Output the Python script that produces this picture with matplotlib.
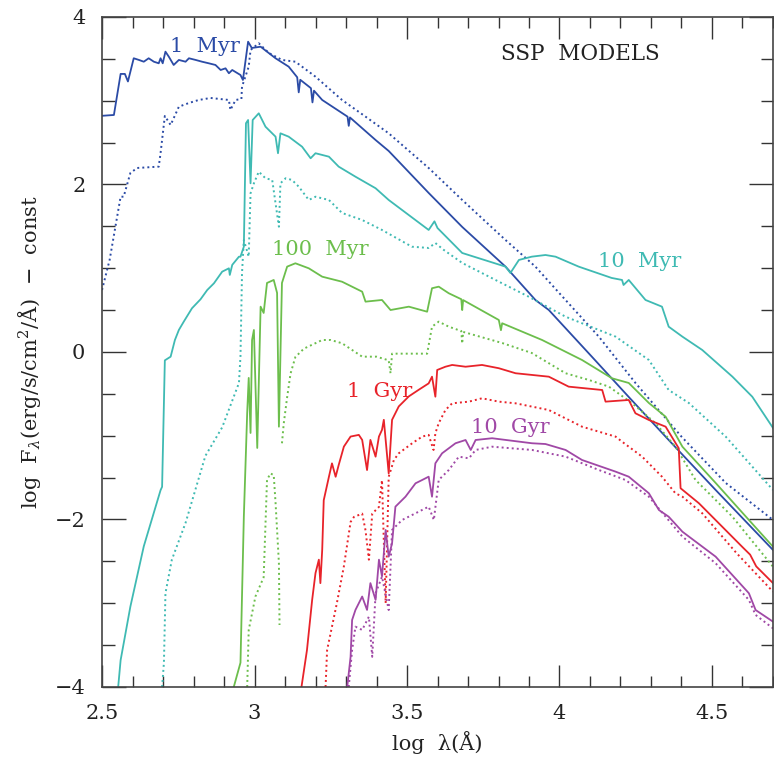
import matplotlib
matplotlib.use("Agg")
import matplotlib.pyplot as plt
from matplotlib.ticker import MultipleLocator
import numpy as np

plt.rcParams["font.family"] = ["DejaVu Serif"]
plt.rcParams["mathtext.fontset"] = "dejavuserif"

# ---- spectra (log lambda, log F) ----
# 1 Myr
myr1_x = [2.5, 2.539, 2.561, 2.575, 2.585, 2.604, 2.621, 2.637, 2.653, 2.670, 2.686, 2.692, 2.699, 2.708,
          2.719, 2.735, 2.752, 2.774, 2.785, 2.807, 2.828, 2.850, 2.872, 2.889, 2.905, 2.916, 2.927, 2.954,
          2.962, 2.979, 2.991, 3.02, 3.069, 3.112, 3.14, 3.145, 3.15, 3.185, 3.19, 3.195, 3.222, 3.305,
          3.309, 3.313, 3.397, 3.44, 3.571, 3.681, 3.823, 3.921, 3.965, 4.106, 4.227, 4.358, 4.512, 4.70]
myr1_y = [2.82, 2.83, 3.32, 3.32, 3.23, 3.507, 3.487, 3.466, 3.507, 3.466, 3.447, 3.507, 3.447, 3.586,
          3.526, 3.427, 3.487, 3.466, 3.507, 3.487, 3.466, 3.447, 3.427, 3.367, 3.387, 3.328, 3.367, 3.307,
          3.248, 3.705, 3.63, 3.645, 3.507, 3.407, 3.28, 3.10, 3.25, 3.15, 2.98, 3.12, 3.009, 2.81,
          2.70, 2.80, 2.531, 2.40, 1.899, 1.493, 1.019, 0.621, 0.501, -0.056, -0.537, -1.051, -1.648, -2.364]
myr1d_x = [2.5, 2.525, 2.561, 2.571, 2.593, 2.615, 2.686, 2.692, 2.706, 2.725, 2.752, 2.785, 2.817, 2.856,
           2.916, 2.921, 2.938, 2.957, 2.959, 2.981, 2.987, 3.014, 3.047, 3.09, 3.134, 3.20, 3.287, 3.364,
           3.44, 3.571, 3.681, 3.823, 3.921, 4.0, 4.129, 4.249, 4.40, 4.545, 4.70]
myr1d_y = [0.74, 1.10, 1.854, 1.854, 2.137, 2.197, 2.213, 2.376, 2.818, 2.71, 2.929, 2.973, 3.009, 3.033,
           3.009, 2.89, 3.009, 3.021, 3.168, 3.407, 3.606, 3.686, 3.57, 3.487, 3.466, 3.287, 3.009, 2.81,
           2.611, 2.197, 1.815, 1.337, 1.019, 0.70, 0.183, -0.370, -1.011, -1.564, -2.006]

# 10 Myr
myr10_x = [2.553, 2.561, 2.593, 2.637, 2.692, 2.697, 2.706, 2.725, 2.739, 2.752, 2.768, 2.795, 2.823, 2.845,
           2.867, 2.894, 2.916, 2.919, 2.927, 2.949, 2.954, 2.965, 2.972, 2.979, 2.987, 2.994, 3.014, 3.025,
           3.036, 3.069, 3.077, 3.085, 3.112, 3.134, 3.156, 3.184, 3.20, 3.244, 3.276, 3.331, 3.397, 3.44,
           3.571, 3.59, 3.60, 3.681, 3.823, 3.839, 3.867, 3.909, 3.954, 3.987, 4.063, 4.171, 4.205, 4.21,
           4.227, 4.282, 4.336, 4.358, 4.403, 4.468, 4.567, 4.632, 4.70]
myr10_y = [-4.0, -3.68, -3.04, -2.32, -1.65, -1.61, -0.10, -0.056, 0.143, 0.263, 0.362, 0.522, 0.629, 0.740,
           0.820, 0.959, 0.999, 0.92, 1.04, 1.138, 1.138, 1.257, 2.731, 2.77, 2.014, 2.77, 2.85, 2.77,
           2.69, 2.571, 2.373, 2.611, 2.571, 2.511, 2.451, 2.313, 2.373, 2.332, 2.213, 2.093, 1.955, 1.815,
           1.457, 1.56, 1.48, 1.182, 1.019, 0.943, 1.099, 1.138, 1.158, 1.138, 1.019, 0.884, 0.86, 0.80,
           0.86, 0.621, 0.541, 0.302, 0.183, 0.024, -0.295, -0.534, -0.907]
myr10d_x = [2.697, 2.703, 2.708, 2.729, 2.774, 2.839, 2.894, 2.949, 2.954, 2.959, 2.965, 2.981, 2.987, 2.998,
            3.014, 3.036, 3.058, 3.080, 3.085, 3.102, 3.123, 3.145, 3.178, 3.20, 3.244, 3.287, 3.353, 3.418,
            3.516, 3.571, 3.593, 3.62, 3.681, 3.790, 3.899, 4.020, 4.184, 4.293, 4.358, 4.424, 4.545, 4.70]
myr10d_y = [-4.0, -3.71, -2.88, -2.48, -2.04, -1.24, -0.90, -0.37, -0.05, 0.94, 1.337, 1.138, 1.895, 2.014,
            2.153, 2.074, 2.054, 1.496, 2.014, 2.074, 2.054, 1.974, 1.815, 1.854, 1.815, 1.66, 1.576, 1.457,
            1.257, 1.242, 1.301, 1.22, 1.063, 0.860, 0.660, 0.421, 0.183, -0.096, -0.454, -0.609, -1.011, -1.648]

# 100 Myr
myr100_x = [2.932, 2.954, 2.965, 2.976, 2.981, 2.987, 2.992, 2.998, 3.009, 3.020, 3.030, 3.041, 3.063, 3.074,
            3.080, 3.090, 3.107, 3.134, 3.178, 3.222, 3.287, 3.353, 3.364, 3.418, 3.446, 3.506, 3.566, 3.582,
            3.604, 3.637, 3.678, 3.681, 3.684, 3.801, 3.808, 3.812, 3.943, 4.074, 4.172, 4.227, 4.293, 4.348,
            4.403, 4.512, 4.621, 4.70]
myr100_y = [-4.0, -3.71, -1.967, -0.728, -0.31, -0.967, 0.143, 0.263, -1.146, 0.541, 0.466, 0.824, 0.860, 0.705,
            -0.892, 0.824, 1.019, 1.059, 0.999, 0.899, 0.839, 0.72, 0.601, 0.621, 0.501, 0.541, 0.481, 0.761,
            0.780, 0.701, 0.63, 0.50, 0.62, 0.382, 0.26, 0.343, 0.143, -0.096, -0.314, -0.370, -0.609, -0.773,
            -1.131, -1.564, -2.006, -2.325]
myr100d_x = [2.976, 2.981, 3.003, 3.030, 3.041, 3.052, 3.063, 3.069, 3.080, 3.082, np.nan, 3.090, 3.096, 3.107,
             3.118, 3.134, 3.162, 3.222, 3.25, 3.287, 3.353, 3.40, 3.44, 3.446, 3.451, 3.566, 3.582, 3.604,
             3.637, 3.678, 3.681, 3.684, 3.812, 3.909, 4.020, 4.096, 4.162, 4.237, 4.315, 4.380, 4.446, 4.567,
             4.70]
myr100d_y = [-4.0, -3.32, -2.92, -2.69, -1.53, -1.45, -1.47, -1.80, -2.52, -3.26, np.nan, -1.09, -0.85, -0.54,
             -0.26, -0.06, 0.04, 0.143, 0.143, 0.104, -0.056, -0.056, -0.10, -0.254, -0.02, -0.02, 0.302, 0.362,
             0.302, 0.25, 0.10, 0.24, 0.107, -0.012, -0.254, -0.334, -0.414, -0.609, -0.851, -1.131, -1.528,
             -1.967, -2.564]

# 1 Gyr
gyr1_x = [3.154, 3.172, 3.189, 3.200, 3.211, 3.216, 3.222, 3.227, 3.244, 3.254, 3.266, 3.276, 3.293, 3.315,
          3.342, 3.353, 3.369, 3.380, 3.397, 3.408, 3.418, 3.424, 3.440, 3.451, 3.473, 3.506, 3.539, 3.571,
          3.582, 3.593, 3.599, 3.626, 3.648, 3.692, 3.746, 3.801, 3.856, 3.965, 4.030, 4.140, 4.151, 4.227,
          4.249, 4.293, 4.348, 4.391, 4.397, 4.457, 4.60, 4.625, 4.645, 4.70]
gyr1_y = [-4.0, -3.56, -2.96, -2.64, -2.48, -2.76, -2.36, -1.77, -1.49, -1.33, -1.49, -1.35, -1.13, -1.01,
          -0.99, -1.05, -1.41, -1.05, -1.25, -1.01, -0.93, -0.81, -1.45, -0.81, -0.65, -0.53, -0.45, -0.375,
          -0.295, -0.534, -0.215, -0.176, -0.155, -0.176, -0.155, -0.194, -0.254, -0.295, -0.414, -0.454,
          -0.593, -0.573, -0.732, -0.812, -0.892, -1.15, -1.627, -1.806, -2.33, -2.42, -2.56, -2.76]
gyr1d_x = [3.233, 3.238, 3.27, 3.293, 3.315, 3.326, 3.353, 3.364, 3.375, 3.386, 3.408, 3.418, 3.430, 3.440,
           3.457, 3.473, 3.517, 3.550, 3.571, 3.587, 3.593, 3.604, 3.626, 3.648, 3.703, 3.746, 3.801, 3.856,
           3.965, 4.074, 4.184, 4.205, 4.271, 4.336, 4.380, 4.403, 4.468, 4.58, 4.70]
gyr1d_y = [-4.0, -3.56, -3.0, -2.56, -2.03, -1.97, -1.93, -2.13, -2.48, -1.93, -1.85, -1.53, -3.00, -1.49,
           -1.29, -1.21, -1.09, -1.01, -0.99, -1.17, -0.97, -0.85, -0.693, -0.613, -0.593, -0.553, -0.593,
           -0.613, -0.693, -0.892, -1.011, -1.071, -1.25, -1.489, -1.687, -1.728, -1.926, -2.40, -2.862]

# 10 Gyr
gyr10_x = [3.304, 3.315, 3.320, 3.331, 3.353, 3.369, 3.380, 3.397, 3.408, 3.418, 3.430, 3.440, 3.451, 3.462,
           3.495, 3.528, 3.550, 3.571, 3.582, 3.593, 3.615, 3.659, 3.692, 3.709, 3.725, 3.779, 3.910, 3.954,
           4.020, 4.074, 4.184, 4.227, 4.293, 4.326, 4.358, 4.403, 4.512, 4.621, 4.643, 4.70]
gyr10_y = [-4.0, -3.64, -3.20, -3.08, -2.92, -3.08, -2.76, -2.96, -2.48, -2.68, -2.125, -2.444, -2.284, -1.847,
           -1.728, -1.568, -1.528, -1.489, -1.728, -1.329, -1.21, -1.09, -1.051, -1.17, -1.051, -1.03, -1.09,
           -1.099, -1.17, -1.29, -1.429, -1.489, -1.687, -1.887, -1.967, -2.146, -2.444, -2.881, -3.081, -3.22]
gyr10d_x = [3.309, 3.320, 3.331, 3.353, 3.375, 3.386, 3.397, 3.418, 3.440, 3.451, 3.484, 3.528, 3.571, 3.588,
            3.604, 3.637, 3.670, 3.703, 3.725, 3.779, 3.910, 4.020, 4.129, 4.216, 4.293, 4.348, 4.403, 4.512,
            4.621, 4.643, 4.70]
gyr10d_y = [-4.0, -3.558, -3.28, -3.319, -3.161, -3.64, -2.881, -2.683, -3.081, -2.125, -2.006, -1.926, -1.847,
            -2.006, -1.528, -1.409, -1.25, -1.27, -1.17, -1.131, -1.17, -1.25, -1.409, -1.528, -1.728, -1.967,
            -2.205, -2.523, -2.961, -3.14, -3.30]

ages = ["1 Myr", "10 Myr", "100 Myr", "1 Gyr", "10 Gyr"]
colors = ["#2b4ba6", "#3fbab3", "#6cbe4c", "#e8232a", "#a048a6"]
solid = [(myr1_x, myr1_y), (myr10_x, myr10_y), (myr100_x, myr100_y), (gyr1_x, gyr1_y), (gyr10_x, gyr10_y)]
dotted = [(myr1d_x, myr1d_y), (myr10d_x, myr10d_y), (myr100d_x, myr100d_y), (gyr1d_x, gyr1d_y),
          (gyr10d_x, gyr10d_y)]
label_pos = [(2.836, 3.586), (4.263, 1.015), (3.217, 1.158), (3.411, -0.534), (3.839, -0.971)]

fig = plt.figure(figsize=(7.74, 7.65), dpi=100)
ax = fig.add_axes([0.1318, 0.102, 0.8669, 0.8758])

for (xs, ys), (xd, yd), c in zip(solid, dotted, colors):
    ax.plot(xs, ys, color=c, lw=1.3)
    ax.plot(xd, yd, color=c, lw=1.4, linestyle=(0, (1, 1.6)))

for name, (lx, ly), c in zip(ages, label_pos, colors):
    ax.text(lx, ly, name.replace(" ", "  "), color=c, fontsize=15, ha="center", va="baseline")

ax.text(4.069, 3.487, "SSP  MODELS", color="#222222", fontsize=15.5, ha="center", va="baseline")

ax.set_xlim(2.5, 4.7)
ax.set_ylim(-4, 4)
ax.xaxis.set_major_locator(MultipleLocator(0.5))
ax.xaxis.set_minor_locator(MultipleLocator(0.1))
ax.yaxis.set_major_locator(MultipleLocator(2))
ax.yaxis.set_minor_locator(MultipleLocator(0.5))
ax.set_xticks([2.5, 3, 3.5, 4, 4.5])
ax.set_xticklabels(["2.5", "3", "3.5", "4", "4.5"])
ax.set_yticks([-4, -2, 0, 2, 4])
ax.set_yticklabels(["\u22124", "\u22122", "0", "2", "4"])
ax.tick_params(which="both", direction="in", top=True, right=True, color="#333333", width=1.0,
               labelsize=15, labelcolor="#222222")
ax.tick_params(axis="x", which="major", length=16, pad=12)
ax.tick_params(axis="x", which="minor", length=8)
ax.tick_params(axis="y", which="major", length=17, pad=12)
ax.tick_params(axis="y", which="minor", length=9)
for s in ax.spines.values():
    s.set_color("#444444")
    s.set_linewidth(1.2)

ax.set_xlabel("log  \u03bb(\u00c5)", fontsize=15, color="#222222", labelpad=6)
ax.set_ylabel("log  F$_\\lambda$(erg/s/cm$^2$/\u00c5)  \u2212  const", fontsize=15, color="#222222",
              labelpad=8)

fig.savefig("out.png", dpi=100)
